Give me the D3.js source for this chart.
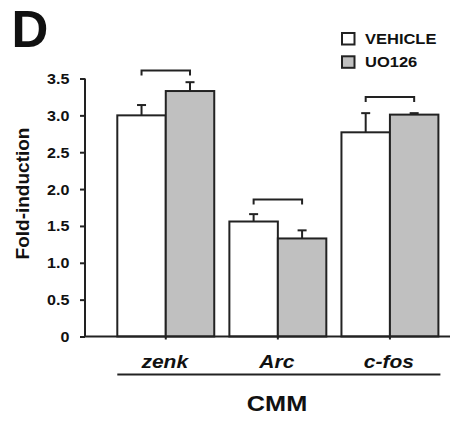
<!DOCTYPE html>
<html>
<head>
<meta charset="utf-8">
<script src="https://cdn.jsdelivr.net/npm/d3@7"></script>
<style>
  html, body { margin: 0; padding: 0; background: #fff; }
  svg { display: block; }
  text { font-family: "Liberation Sans", Arial, Helvetica, sans-serif; font-weight: bold; fill: #111; }
</style>
</head>
<body>
<svg id="chart" width="451" height="421"></svg>
<script>
// Gene categories and treatment series
const categories = ["zenk", "Arc", "c-fos"];
const seriesNames = ["VEHICLE", "UO126"];
const vehicleValues = [3.00, 1.56, 2.77];
const uo126Values = [3.33, 1.33, 3.01];
const vehicleErrors = [0.14, 0.10, 0.26];
const uo126Errors = [0.12, 0.11, 0.02];
// Height of the comparison bracket above each pair
const bracketLevels = [3.61, 1.86, 3.25];
const yTicks = [0, 0.5, 1.0, 1.5, 2.0, 2.5, 3.0, 3.5];
const yTickLabels = ["0", "0.5", "1.0", "1.5", "2.0", "2.5", "3.0", "3.5"];
const seriesFill = ["#ffffff", "#c0c0c0"];

const ink = "#222";
const sx = 1.15; // horizontal widening of the label lettering

const svg = d3.select("#chart");

const y = d3.scaleLinear().domain([0, 3.5]).range([336.5, 78.5]);
const x = d3.scaleBand().domain(categories).range([117.3, 438.4]).paddingInner(0.135).paddingOuter(0);
const xs = d3.scaleBand().domain(seriesNames).range([0, x.bandwidth()]).padding(0);

const rows = categories.map((c, i) => ({
  cat: c,
  vals: [
    { s: seriesNames[0], v: vehicleValues[i], e: vehicleErrors[i], fill: seriesFill[0] },
    { s: seriesNames[1], v: uo126Values[i], e: uo126Errors[i], fill: seriesFill[1] }
  ],
  bracket: bracketLevels[i]
}));

// Panel letter
svg.append("text").attr("x", 11.5).attr("y", 46.7)
  .style("font-size", "51px").text("D");

// Y axis
const yAxis = d3.axisLeft(y).tickValues(yTicks)
  .tickFormat((d, i) => yTickLabels[i]).tickSize(5).tickPadding(0);
const gy = svg.append("g").attr("transform", "translate(85,0)").call(yAxis);
gy.select(".domain").attr("stroke", ink).attr("stroke-width", 2).attr("d", `M0,${y(3.5)}V${y(0)}`);
gy.selectAll(".tick line").attr("stroke", ink).attr("stroke-width", 2);
gy.selectAll(".tick text")
  .attr("x", null).attr("dy", null)
  .attr("text-anchor", "end")
  .attr("transform", `translate(-15.5,5) scale(${sx},1)`)
  .style("font-size", "14px").style("font-family", null).attr("fill", "#111");
gy.attr("font-family", null).attr("font-size", null);

// Y axis title
svg.append("text")
  .attr("transform", `translate(28.5,${193.5}) rotate(-90)`)
  .attr("text-anchor", "middle")
  .style("font-size", "19px").text("Fold-induction");

// Bars
const groups = svg.append("g").selectAll("g").data(rows).join("g")
  .attr("transform", d => `translate(${x(d.cat)},0)`);

groups.selectAll("rect").data(d => d.vals).join("rect")
  .attr("x", d => xs(d.s))
  .attr("y", d => y(d.v))
  .attr("width", xs.bandwidth())
  .attr("height", d => y(0) - y(d.v))
  .attr("fill", d => d.fill)
  .attr("stroke", ink).attr("stroke-width", 2);

// Error bars (upper only)
const err = groups.selectAll("g.err").data(d => d.vals).join("g").attr("class", "err");
err.append("line")
  .attr("x1", d => xs(d.s) + xs.bandwidth() / 2).attr("x2", d => xs(d.s) + xs.bandwidth() / 2)
  .attr("y1", d => y(d.v)).attr("y2", d => y(d.v + d.e))
  .attr("stroke", ink).attr("stroke-width", 2);
err.append("line")
  .attr("x1", d => xs(d.s) + xs.bandwidth() / 2 - 4.5).attr("x2", d => xs(d.s) + xs.bandwidth() / 2 + 4.5)
  .attr("y1", d => y(d.v + d.e)).attr("y2", d => y(d.v + d.e))
  .attr("stroke", ink).attr("stroke-width", 2);

// Comparison brackets
groups.append("path")
  .attr("d", d => {
    const a = xs(seriesNames[0]) + xs.bandwidth() / 2;
    const b = xs(seriesNames[1]) + xs.bandwidth() / 2;
    const yy = y(d.bracket);
    return `M${a},${yy + 5}V${yy}H${b}V${yy + 5}`;
  })
  .attr("fill", "none").attr("stroke", ink).attr("stroke-width", 2);

// X axis line with ticks at group centres
const xAxis = d3.axisBottom(x).tickSize(3).tickFormat("");
const gx = svg.append("g").attr("transform", `translate(0,${y(0)})`).call(xAxis);
gx.select(".domain").attr("stroke", ink).attr("stroke-width", 2).attr("d", "M85,0H450");
gx.selectAll(".tick line").attr("stroke", ink).attr("stroke-width", 2);

// Category labels
svg.append("g").selectAll("text").data(categories).join("text")
  .attr("transform", d => `translate(${x(d) + x.bandwidth() / 2 - 1},368.3) scale(1.2,1)`)
  .attr("text-anchor", "middle")
  .style("font-size", "17.5px").style("font-style", "italic")
  .text(d => d);

// Group underline and region label
svg.append("line")
  .attr("x1", x(categories[0])).attr("x2", x(categories[2]) + x.bandwidth() + 2)
  .attr("y1", 374.5).attr("y2", 374.5)
  .attr("stroke", ink).attr("stroke-width", 2);
svg.append("text")
  .attr("transform", `translate(277,411) scale(${sx},1)`)
  .attr("text-anchor", "middle")
  .style("font-size", "22px").text("CMM");

// Legend
const legend = svg.append("g").selectAll("g").data(seriesNames).join("g")
  .attr("transform", (d, i) => `translate(342,${33 + i * 23.3})`);
legend.append("rect")
  .attr("width", 12.5).attr("height", 11.5)
  .attr("fill", (d, i) => seriesFill[i])
  .attr("stroke", ink).attr("stroke-width", 2);
legend.append("text")
  .attr("transform", `translate(23,11) scale(1.1,1)`)
  .style("font-size", "15px").text(d => d);
</script>
</body>
</html>
